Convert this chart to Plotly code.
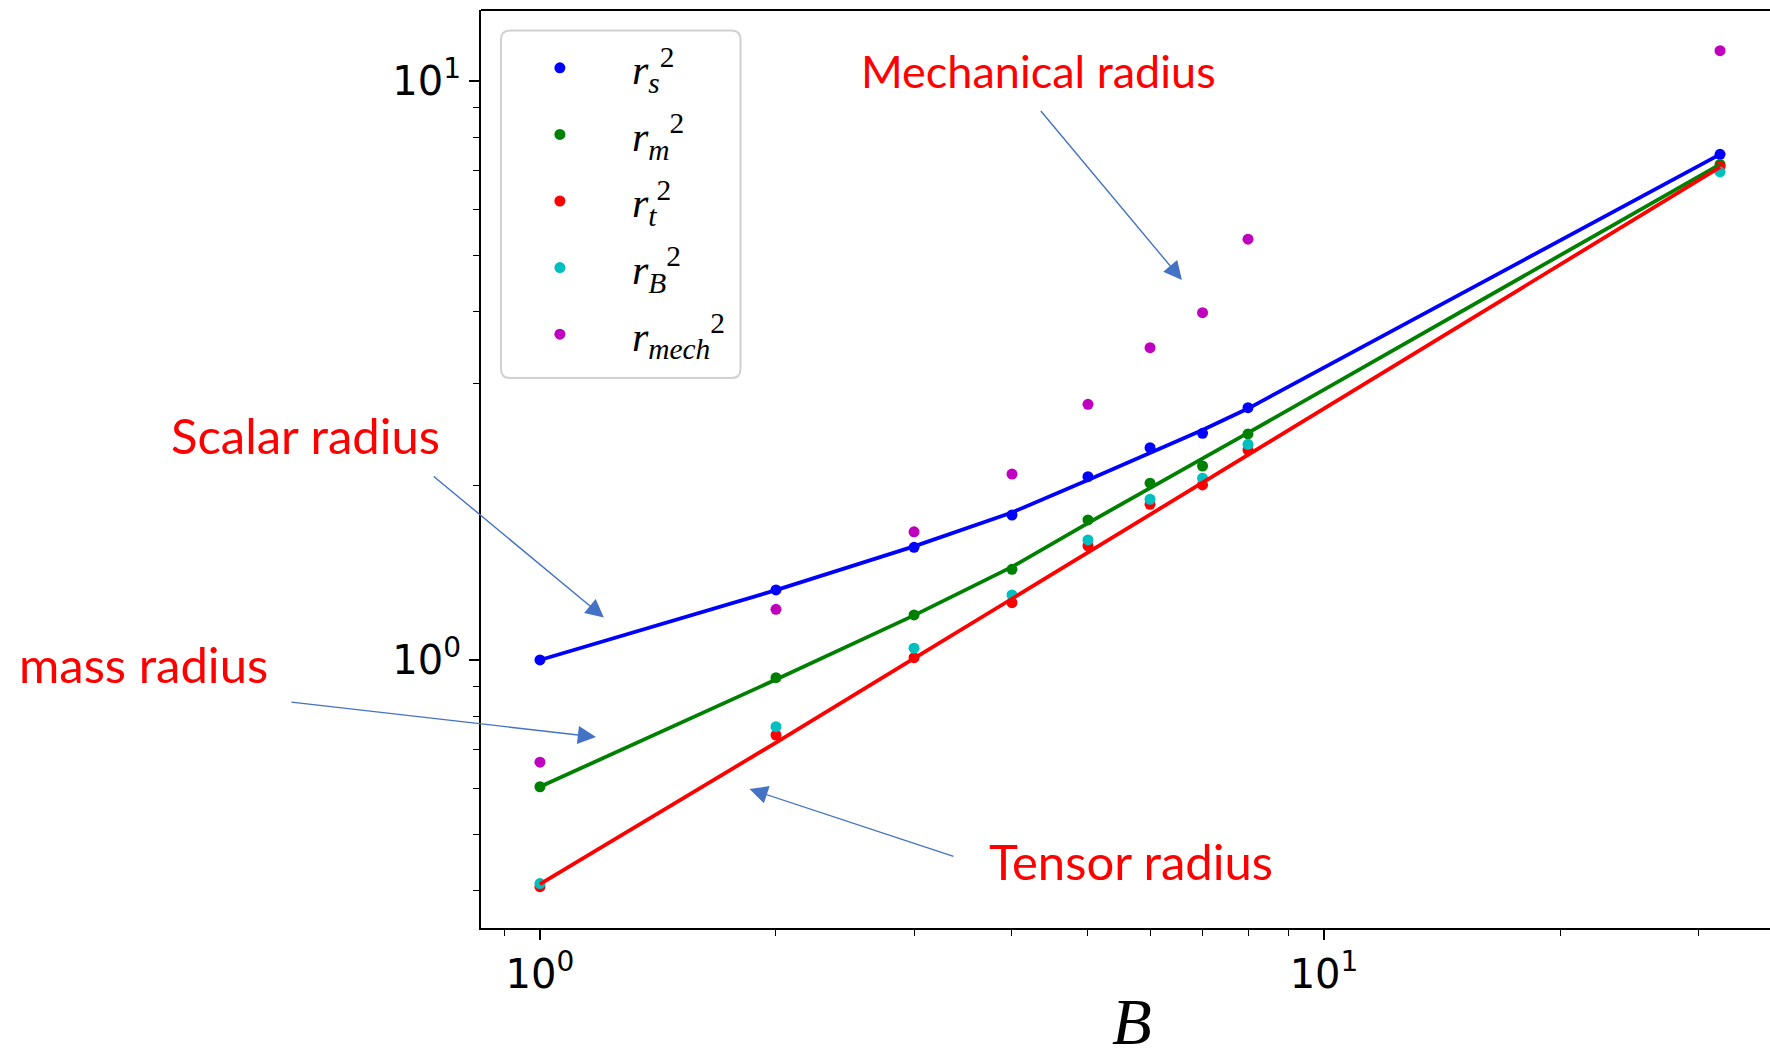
import plotly.graph_objects as go
import math

# ---------------- data ----------------
B = [1, 2, 3, 4, 5, 6, 7, 8, 32]
r_s = [1.00, 1.321, 1.565, 1.780, 2.073, 2.326, 2.463, 2.728, 7.47]
r_m = [0.604, 0.932, 1.196, 1.434, 1.745, 2.020, 2.163, 2.457, 7.175]
r_t = [0.406, 0.742, 1.009, 1.256, 1.575, 1.857, 2.006, 2.305, 7.11]
r_B = [0.411, 0.767, 1.048, 1.295, 1.612, 1.895, 2.060, 2.358, 6.965]
r_mech = [0.666, 1.223, 1.665, 2.095, 2.764, 3.462, 3.98, 5.33, 11.28]

fit_s = [1.00, 1.32, 1.571, 1.798, 2.046, 2.275, 2.495, 2.718, 7.47]
fit_m = [0.604, 0.925, 1.194, 1.448, 1.724, 1.98, 2.226, 2.467, 7.18]
fit_t = [0.41, 0.72, 1.006, 1.276, 1.535, 1.785, 2.026, 2.262, 7.10]

legend_labels = ["<i>r</i><sub><i>s</i></sub><sup>2</sup>",
                 "<i>r</i><sub><i>m</i></sub><sup>2</sup>",
                 "<i>r</i><sub><i>t</i></sub><sup>2</sup>",
                 "<i>r</i><sub><i>B</i></sub><sup>2</sup>",
                 "<i>r</i><sub><i>mech</i></sub><sup>2</sup>"]
colors = ["#0000ff", "#008000", "#ff0000", "#00bfbf", "#bf00bf"]

x_ticks = [1, 10]
x_ticktext = ["10<sup>0</sup>", "10<sup>1</sup>"]
y_ticks = [1, 10]
y_ticktext = ["10<sup>0</sup>", "10<sup>1</sup>"]
x_minor = [0.9, 2, 3, 4, 5, 6, 7, 8, 9, 20, 30]
y_minor = [0.4, 0.5, 0.6, 0.7, 0.8, 0.9, 2, 3, 4, 5, 6, 7, 8, 9]

# ---------------- layout geometry (pixels) ----------------
W, H = 1770, 1052
L, R, T, Bot = 481, 1770, 10, 928
PW, PH = R - L, Bot - T


def px(X):
    return (X - L) / PW


def py(Y):
    return (Bot - Y) / PH


fig = go.Figure()

series = [r_s, r_m, r_t, r_B, r_mech]
for i, (ys, lab, c) in enumerate(zip(series, legend_labels, colors)):
    fig.add_trace(go.Scatter(x=B, y=ys, mode="markers", name=lab,
                             legendgroup=f"g{i}",
                             marker=dict(color=c, size=11, line=dict(width=0))))

for ys, c in zip([fit_s, fit_m, fit_t], colors[:3]):
    fig.add_trace(go.Scatter(x=B, y=ys, mode="lines", showlegend=False,
                             line=dict(color=c, width=3.8), hoverinfo="skip"))

tickfont = dict(family="DejaVu Sans", size=40, color="black")

fig.update_xaxes(type="log", range=[math.log10(0.841), (R - 540) / 784],
                 tickmode="array", tickvals=x_ticks, ticktext=x_ticktext,
                 ticks="outside", ticklen=10, tickwidth=2, tickcolor="black",
                 showline=True, linecolor="black", linewidth=2,
                 showgrid=False, zeroline=False, tickfont=tickfont,
                 minor=dict(tickmode="array", tickvals=x_minor, ticks="outside",
                            ticklen=6, tickwidth=1.3, tickcolor="black", showgrid=False))
fig.update_yaxes(type="log", range=[-0.4629, 1.1226],
                 tickmode="array", tickvals=y_ticks, ticktext=y_ticktext,
                 ticks="outside", ticklen=10, tickwidth=2, tickcolor="black",
                 showline=True, linecolor="black", linewidth=2,
                 showgrid=False, zeroline=False, tickfont=tickfont,
                 minor=dict(tickmode="array", tickvals=y_minor, ticks="outside",
                            ticklen=6, tickwidth=1.3, tickcolor="black", showgrid=False))

# top spine
fig.add_shape(type="line", xref="paper", yref="paper", x0=0, x1=1, y0=1, y1=1,
              line=dict(color="black", width=2))

# legend frame (rounded)
bx0, bx1, by0, by1 = px(501), px(740.5), py(378), py(30.5)
rx, ry = 9 / PW, 9 / PH
path = (f"M {bx0+rx} {by1} L {bx1-rx} {by1} Q {bx1} {by1} {bx1} {by1-ry} "
        f"L {bx1} {by0+ry} Q {bx1} {by0} {bx1-rx} {by0} "
        f"L {bx0+rx} {by0} Q {bx0} {by0} {bx0} {by0+ry} "
        f"L {bx0} {by1-ry} Q {bx0} {by1} {bx0+rx} {by1} Z")
fig.add_shape(type="path", xref="paper", yref="paper", path=path,
              fillcolor="rgba(255,255,255,0.8)", line=dict(color="#d0d0d0", width=2),
              layer="above")

# text labels
labels = [("Mechanical radius", 1038.5, 71, 45),
          ("Scalar radius", 305, 434.6, 49),
          ("mass radius", 143, 663.7, 49),
          ("Tensor radius", 1131, 861, 49)]
for t, X, Y, s in labels:
    fig.add_annotation(text=t, x=px(X), y=py(Y), xref="paper", yref="paper",
                       showarrow=False, font=dict(family="Lato", size=s, color="#ff0000"),
                       xanchor="center", yanchor="middle")

# arrows (head, tail) in pixels
arrows = [((1181.9, 279.9), (1039.6, 109.5)),
          ((603.9, 617.5), (432.3, 475.2)),
          ((596, 737), (290, 702)),
          ((749.5, 789), (955, 856.8))]
for (hx, hy), (tx, ty) in arrows:
    fig.add_annotation(text="", x=px(hx), y=py(hy), xref="paper", yref="paper",
                       ax=tx - hx, ay=ty - hy, axref="pixel", ayref="pixel",
                       showarrow=True, arrowhead=2, arrowsize=2.6, arrowwidth=1.4,
                       arrowcolor="#4472C4", standoff=0)

# x-axis label
fig.add_annotation(text="<i>B</i>", x=px(1132), y=py(1022), xref="paper", yref="paper",
                   showarrow=False, xanchor="center", yanchor="middle", height=56,
                   font=dict(family="Liberation Serif", size=65, color="black"))

fig.update_layout(
    width=W, height=H,
    margin=dict(l=L, r=W - R, t=T, b=H - Bot, pad=0),
    paper_bgcolor="white", plot_bgcolor="white",
    showlegend=True,
    legend=dict(x=px(501) + 0.01 - 26 / PW, y=py(34), xanchor="left", yanchor="top",
                bgcolor="rgba(0,0,0,0)", borderwidth=0,
                font=dict(family="Liberation Serif", size=42, color="black"),
                itemwidth=134, tracegroupgap=9),
)

fig.write_html("out.html")
